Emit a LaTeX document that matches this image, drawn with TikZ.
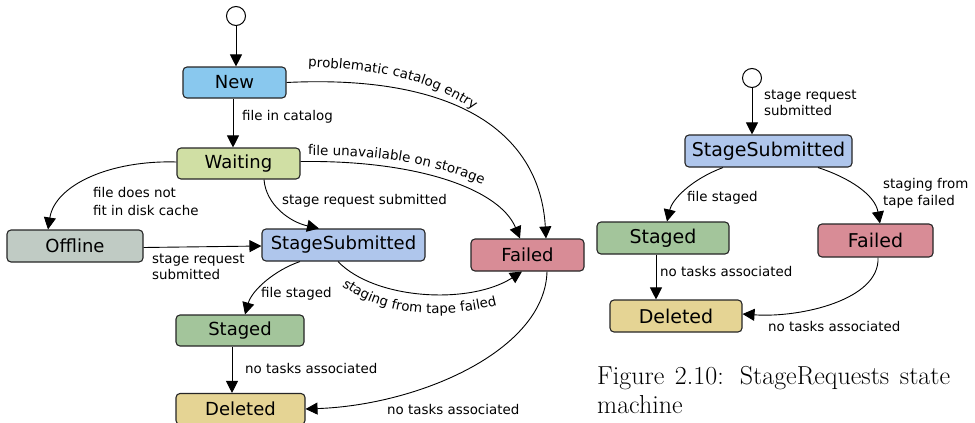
\documentclass[tikz,border=0pt]{standalone}
\usepackage{fontspec}
\usetikzlibrary{arrows.meta,calc,decorations.text}
\newfontfamily\dvs{DejaVu Sans}
\newcommand\lblfont{\dvs\fontsize{13.4}{16}\selectfont}

\definecolor{cNew}{RGB}{137,200,238}
\definecolor{cWait}{RGB}{208,223,164}
\definecolor{cOff}{RGB}{192,203,196}
\definecolor{cSub}{RGB}{175,198,236}
\definecolor{cFail}{RGB}{216,140,150}
\definecolor{cStaged}{RGB}{163,197,155}
\definecolor{cDel}{RGB}{229,212,148}

\tikzset{
  state/.style={draw=black!85, line width=1.1pt, rounded corners=4pt, inner sep=0pt,
    font=\dvs\fontsize{18}{20}\selectfont},
  rstate/.style={state, font=\dvs\fontsize{19}{21}\selectfont},
  initial/.style={circle, draw, fill=white, line width=1pt, minimum size=19pt, inner sep=0pt},
  edge/.style={draw, line width=0.9pt, -{Triangle[length=12pt,width=12pt]}},
  lbl/.style={font=\lblfont, inner sep=0pt, anchor=base west, align=left},
  curvedlbl/.style={decorate, decoration={text along path, text align=left, text={|\lblfont|#1}}},
}

\begin{document}
\begin{tikzpicture}[x=1pt, y=-1pt]
\useasboundingbox (0,0) rectangle (975,423);
\fill[white] (0,0) rectangle (975,423);

% ---------- file state machine ----------
\node[initial] (i1) at (236,16) {};
\node[state, fill=cNew,    minimum width=103pt, minimum height=31pt] (New)     at (234.5,82.5) {New};
\node[state, fill=cWait,   minimum width=123pt, minimum height=31pt] (Waiting) at (238.5,163.5) {Waiting};
\node[state, fill=cOff,    minimum width=136pt, minimum height=32pt] (Offline) at (75,246) {Offline};
\node[state, fill=cSub,    minimum width=163pt, minimum height=32pt] (Sub)     at (343.5,245) {StageSubmitted};
\node[state, fill=cFail,   minimum width=113pt, minimum height=32pt] (Failed)  at (527.5,255) {Failed};
\node[state, fill=cStaged, minimum width=128pt, minimum height=31pt] (Staged)  at (240,330.5) {Staged};
\node[state, fill=cDel,    minimum width=129pt, minimum height=31pt] (Deleted) at (240.5,409) {Deleted};

\draw[edge] (i1.south) -- (i1.south |- New.north);
\draw[edge] ([xshift=-1.5pt]New.south) -- ([xshift=-1.5pt]New.south |- Waiting.north);
\draw[edge] (New.east) .. controls (460,74) and (540,135) .. ([xshift=18.5pt]Failed.north);
\draw[edge] ([yshift=2pt]Waiting.east) .. controls (420,160) and (500,190) .. ([xshift=-7.5pt]Failed.north);
\draw[edge] ([yshift=1.5pt]Waiting.west) .. controls (110,160) and (55,185) .. ([xshift=-27pt]Offline.north);
\draw[edge] ([xshift=25.5pt]Waiting.south) .. controls (266,205) and (290,222) .. ([xshift=-24.5pt]Sub.north);
\draw[edge] ([yshift=-1.5pt]Offline.east) -- ([yshift=-1pt]Sub.west);
\draw[edge] ([xshift=-43.5pt]Sub.south) .. controls (275,270) and (252,290) .. ([xshift=5pt]Staged.north);
\draw[edge] ([xshift=-5.5pt]Sub.south) .. controls (375,300) and (470,305) .. ([xshift=-5.5pt]Failed.south);
\draw[edge] ([xshift=-8pt]Staged.south) -- ([xshift=-8pt]Staged.south |- Deleted.north);
\draw[edge] ([xshift=19.5pt]Failed.south) .. controls (545,350) and (420,405) .. (Deleted.east);

% labels (a multi-line label is placed by the baseline of its last line)
\node[lbl] (l1) at (242,120.5) {file in catalog};
\node[lbl] (l2) at (282,204.5) {stage request submitted};
\node[lbl, font=\dvs\fontsize{13.4}{17.7}\selectfont] (l3) at (93,215.5) {file does not\\fit in disk cache};
\node[lbl, font=\dvs\fontsize{13.4}{15.5}\selectfont] (l4) at (152,279) {stage request\\submitted};
\node[lbl] (l5) at (261,297.5) {file staged};
\node[lbl] (l6) at (245,373.5) {no tasks associated};
\node[lbl] (l7) at (387,414.5) {no tasks associated};

\path[curvedlbl={problematic catalog entry}] (308,67) .. controls (400,70) and (452,86) .. (503,134);
\path[curvedlbl={file unavailable on storage}] (308,155) .. controls (380,155) and (440,163) .. (500,192);
\path[curvedlbl={staging from tape failed}] (342,286) .. controls (378,312) and (435,325) .. (515,300);

% ---------- stage request state machine ----------
\node[initial] (i2) at (752,78) {};
\node[rstate, fill=cSub,    minimum width=167pt, minimum height=32pt] (Sub2)     at (768.5,151) {StageSubmitted};
\node[rstate, fill=cStaged, minimum width=132pt, minimum height=32pt] (Staged2)  at (663,238) {Staged};
\node[rstate, fill=cFail,   minimum width=115pt, minimum height=33pt] (Failed2)  at (875.5,240.5) {Failed};
\node[rstate, fill=cDel,    minimum width=132pt, minimum height=32pt] (Deleted2) at (676,316) {Deleted};

\draw[edge] (i2.south) -- (i2.south |- Sub2.north);
\draw[edge] ([xshift=-45.5pt]Sub2.south) .. controls (690,180) and (672,200) .. ([xshift=4pt]Staged2.north);
\draw[edge] ([xshift=49.5pt]Sub2.south) .. controls (850,178) and (875,195) .. ([xshift=4.5pt]Failed2.north);
\draw[edge] ([xshift=-7pt]Staged2.south) -- ([xshift=-7pt]Staged2.south |- Deleted2.north);
\draw[edge] ([xshift=2.5pt]Failed2.south) .. controls (880,300) and (800,318) .. ([yshift=2pt]Deleted2.east);

\node[lbl, font=\dvs\fontsize{13.4}{16}\selectfont] (r1) at (764,115.5) {stage request\\submitted};
\node[lbl] (r2) at (687,201.5) {file staged};
\node[lbl, font=\dvs\fontsize{13.4}{17}\selectfont] (r3) at (883,205.5) {staging from\\tape failed};
\node[lbl] (r4) at (660,276.5) {no tasks associated};
\node[lbl] (r5) at (768,331.5) {no tasks associated};

\node[font=\fontsize{26}{28.5}\selectfont, anchor=base west, align=left, inner sep=0pt] (cap)
  at (597,413) {\hbox to 353pt{Figure 2.10: StageRequests state}\\machine};
\end{tikzpicture}
\end{document}
